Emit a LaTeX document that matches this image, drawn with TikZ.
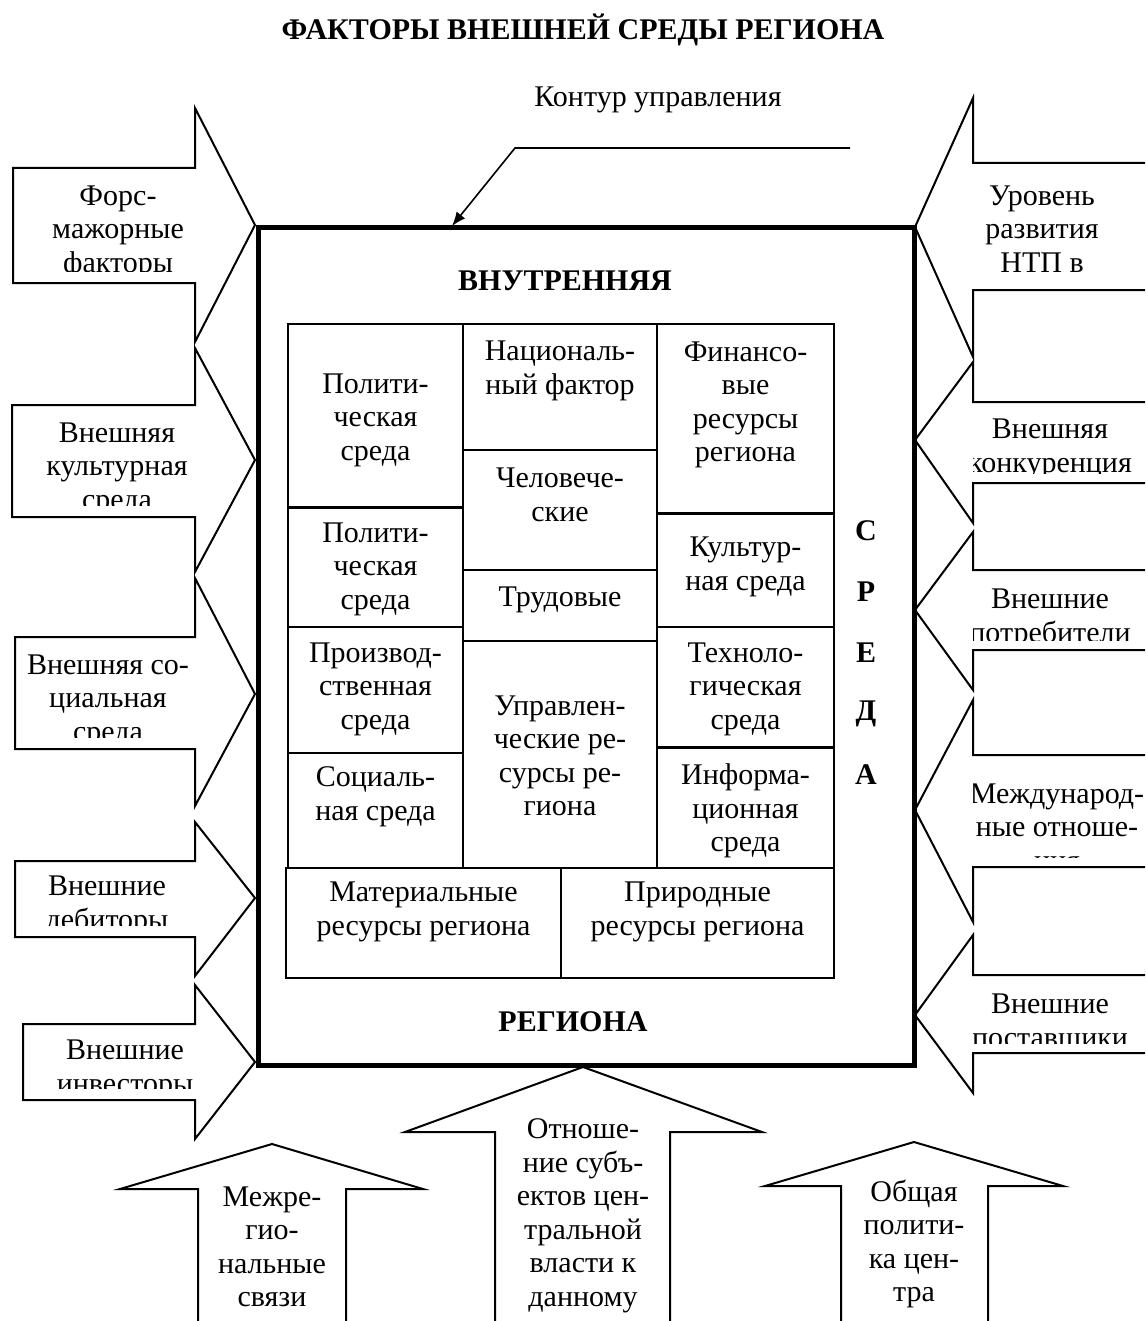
\documentclass[tikz,border=0pt]{standalone}
\usepackage{fontspec}
\setmainfont{Liberation Serif}
\usetikzlibrary{fit,arrows.meta}

\tikzset{
  txt/.style={align=center, inner sep=0pt, font=\fontsize{15}{16.75}\selectfont},
  heading/.style={inner sep=0pt, font=\fontsize{15}{16.75}\selectfont\bfseries},
  cell/.style={draw, line width=0.8pt, inner sep=0pt, outer sep=0pt},
  thickline/.style={line width=1.5pt},
  block/.style={draw, fill=white, line width=1pt},
  kline/.style={line width=0.8pt, -{Latex[length=7pt,width=5.5pt]}},
}

\begin{document}
\begin{tikzpicture}[x=0.5pt, y=-0.5pt]
\fill[white] (0,0) rectangle (1145,1321);
\useasboundingbox (0,0) rectangle (1145,1321);
\clip (0,0) rectangle (1145,1321);

\node[heading] (title) at (583,30) {ФАКТОРЫ ВНЕШНЕЙ СРЕДЫ РЕГИОНА};

% arrows from the left
\foreach \nm/\xl/\st/\sb/\htop/\hbot/\tp/\cx/\cy/\tx in {
    fors/13/168/283/108/342/225/118/232/{Форс-\\мажорные\\факторы},
    vkult/12/405/517/348/572/460/117/469/{Внешняя\\культурная\\среда},
    vsoc/15/637/749/578/806/694/108/701/{Внешняя со-\\циальная\\среда},
    vdeb/15/861/937/822/976/898/107/906/{Внешние\\дебиторы},
    vinv/23/1024/1100/985/1139/1062/125/1070/{Внешние\\инвесторы}}
{
  \draw[block] (\xl,\st) -- (195,\st) -- (195,\htop) -- (255,\tp) -- (195,\hbot) -- (195,\sb) -- (\xl,\sb) -- cycle;
  \begin{scope}
    \clip (\xl,\st) rectangle (195,{\sb-12});
    \node[txt] (\nm) at (\cx,\cy) {\tx};
  \end{scope}
}

% arrows from the right
\foreach \nm/\st/\sb/\htop/\hbot/\tp/\cx/\cy/\tx in {
    ntp/163/290/98/357/227/1042/229/{Уровень\\развития\\НТП в},
    konk/402/483/362/523/440/1050/449/{Внешняя\\конкуренция},
    potr/570/650/532/690/610/1050/619/{Внешние\\потребители},
    mezhd/755/867/700/922/810/1057/827/{Международ-\\ные отноше-\\ния},
    post/975/1053/935/1093/1015/1050/1024/{Внешние\\поставщики}}
{
  \draw[block] (1160,\st) -- (973,\st) -- (973,\htop) -- (915,\tp) -- (973,\hbot) -- (973,\sb) -- (1160,\sb) -- cycle;
  \begin{scope}
    \clip (973,\st) rectangle (1160,{\sb-10});
    \node[txt] (\nm) at (\cx,\cy) {\tx};
  \end{scope}
}

% arrows from below
\foreach \nm/\xl/\xr/\hleft/\hright/\hy/\ax/\ay/\cy/\tx in {
    mezhreg/198/346/120/423/1189/272/1144/1247/{Межре-\\гио-\\нальные\\связи},
    otnosh/495/670/405/762/1132/583/1067/1216/{Отноше-\\ние субъ-\\ектов цен-\\тральной\\власти к\\данному},
    obpol/841/988/765/1063/1186/914/1142/1244/{Общая\\полити-\\ка цен-\\тра}}
{
  \draw[block] (\xl,1340) -- (\xl,\hy) -- (\hleft,\hy) -- (\ax,\ay) -- (\hright,\hy) -- (\xr,\hy) -- (\xr,1340);
  \node[txt] (\nm) at (\ax,\cy) {\tx};
}

% region
\node[draw, line width=2.5pt, inner sep=0pt, outer sep=0pt, fit={(258,228) (914,1065)}] (reg) {};

\node[txt] (kontur) at (658,100) {Контур управления};
\coordinate (kr) at (850,148);
\coordinate (kc) at (515,148);
\coordinate (kt) at (452,226);
\draw[kline] (kr) -- (kc) -- (kt);

\node[heading] (vnutr) at (565,281) {ВНУТРЕННЯЯ};
\node[heading] (regiona) at (573,1022) {РЕГИОНА};
\foreach \l [count=\i] in {С,Р,Е,Д,А}
  \node[heading] (sreda\i) at (866,{470+61*\i}) {\l};

% cells
\foreach \nm/\xa/\ya/\xb/\yb/\ty/\tx in {
    polA/288/324/463/507/420/{Полити-\\ческая\\среда},
    polB/288/507/463/627/569/{Полити-\\ческая\\среда},
    proizv/288/627/463/753/689/{Производ-\\ственная\\среда},
    socs/288/753/463/868/797/{Социаль-\\ная среда},
    nacf/463/324/657/450/371/{Националь-\\ный фактор},
    chel/463/450/657/570/495/{Человече-\\ские},
    trud/463/570/657/641/600/{Трудовые},
    uprav/463/641/657/868/756/{Управлен-\\ческие ре-\\сурсы ре-\\гиона},
    fin/657/324/834/513/405/{Финансо-\\вые\\ресурсы\\региона},
    kults/657/513/834/627/567/{Культур-\\ная среда},
    tehn/657/627/834/747/689/{Техноло-\\гическая\\среда},
    inf/657/747/834/868/811/{Информа-\\ционная\\среда},
    mater/286/868/561/978/912/{Материальные\\ресурсы региона},
    prir/561/868/834/978/912/{Природные\\ресурсы региона}}
{
  \node[cell, fit={(\xa,\ya) (\xb,\yb)}] (\nm) {};
  \node[txt] (\nm-t) at ({(\xa+\xb)/2},\ty) {\tx};
}
\draw[thickline] (polA.south west) -- (polA.south east);
\draw[thickline] (fin.south west) -- (fin.south east);
\draw[thickline] (tehn.south west) -- (tehn.south east);
\end{tikzpicture}
\end{document}
